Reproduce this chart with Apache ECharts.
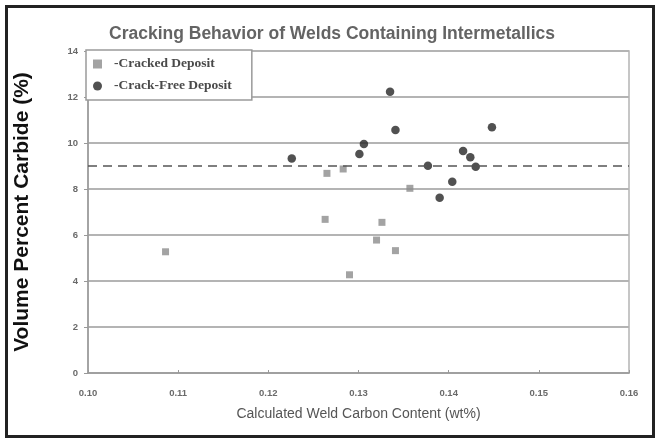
<!DOCTYPE html>
<html>
<head>
<meta charset="utf-8">
<script src="https://cdn.jsdelivr.net/npm/echarts@6/dist/echarts.min.js"></script>
<style>html,body{margin:0;padding:0;background:#fff}#c{width:655px;height:439px}</style>
</head>
<body>
<div id="c"></div>
<script>
// Weld carbon content (wt%) vs. volume percent carbide
const crackedCarbon   = [0.1086, 0.1263, 0.1265, 0.1283, 0.1290, 0.1320, 0.1326, 0.1341, 0.1357];
const crackedCarbide  = [5.27, 6.68, 8.68, 8.87, 4.27, 5.78, 6.55, 5.32, 8.03];
const crackFreeCarbon  = [0.1226, 0.1301, 0.1306, 0.1335, 0.1341, 0.1377, 0.1390, 0.1404, 0.1416, 0.1424, 0.1430, 0.1448];
const crackFreeCarbide = [9.33, 9.52, 9.96, 12.23, 10.57, 9.01, 7.62, 8.32, 9.65, 9.38, 8.97, 10.68];
const thresholdCarbide = 9.0;
const xTicks = ['0.10', '0.11', '0.12', '0.13', '0.14', '0.15', '0.16'];
const yTicks = [0, 2, 4, 6, 8, 10, 12, 14];

const toPairs = (xs, ys) => xs.map((x, i) => [x, ys[i]]);

const chart = echarts.init(document.getElementById('c'), null, {renderer: 'canvas'});
const gridColor = '#b4b4b4';
const sans = 'Liberation Sans, Arial, sans-serif';
const tickStyle = {color: '#6a6a6a', fontSize: 9.5, fontWeight: 'bold', fontFamily: sans};

chart.setOption({
  animation: false,
  backgroundColor: '#fff',
  title: {
    text: 'Cracking Behavior of Welds Containing Intermetallics',
    left: 327, top: 20, textAlign: 'center',
    textStyle: {color: '#646464', fontSize: 17.5, fontWeight: 'bold', fontFamily: sans}
  },
  legend: {
    left: 86, top: 50, orient: 'vertical', itemGap: 8,
    itemWidth: 9, itemHeight: 9,
    backgroundColor: '#fff', borderColor: '#9a9a9a', borderWidth: 1.5,
    padding: [7, 20, 7, 7],
    textStyle: {color: '#4a4a4a', fontSize: 13.5, fontWeight: 'bold', fontFamily: 'Liberation Serif, Times New Roman, serif', padding: [0, 0, 0, 7]},
    formatter: n => '-' + n,
    data: [{name: 'Cracked Deposit', icon: 'rect'}, {name: 'Crack-Free Deposit', icon: 'circle'}]
  },
  grid: {left: 88, right: 26, top: 51, bottom: 66, show: true, borderColor: gridColor, borderWidth: 1.5},
  xAxis: {
    type: 'value', min: 0.10, max: 0.16, interval: 0.01,
    name: 'Calculated Weld Carbon Content (wt%)', nameLocation: 'middle', nameGap: 34,
    nameTextStyle: {color: '#555', fontSize: 14, fontFamily: sans},
    axisLine: {lineStyle: {color: '#999', width: 1.5}},
    axisTick: {show: true, inside: true, length: 3, lineStyle: {color: '#999'}},
    axisLabel: Object.assign({margin: 15, formatter: (v) => xTicks[Math.round((v - 0.10) / 0.01)]}, tickStyle),
    splitLine: {show: false}
  },
  yAxis: {
    type: 'value', min: 0, max: 14, interval: 2,
    name: 'Volume Percent Carbide (%)', nameLocation: 'middle', nameGap: 55,
    nameTextStyle: {color: '#111', fontSize: 21, fontWeight: 'bold', fontFamily: sans},
    axisLine: {lineStyle: {color: '#999', width: 1.5}},
    axisTick: {show: true, length: 4, lineStyle: {color: '#999'}},
    axisLabel: Object.assign({margin: 10, formatter: v => yTicks.includes(v) ? String(v) : ''}, tickStyle),
    splitLine: {lineStyle: {color: gridColor, width: 2}}
  },
  series: [
    {
      name: 'Cracked Deposit', type: 'scatter', symbol: 'rect', symbolSize: 7,
      itemStyle: {color: '#8c8c8c'}, z: 3,
      data: toPairs(crackedCarbon, crackedCarbide)
    },
    {
      name: 'Crack-Free Deposit', type: 'scatter', symbol: 'circle', symbolSize: 8.5,
      itemStyle: {color: '#262626'}, z: 4,
      data: toPairs(crackFreeCarbon, crackFreeCarbide),
      markLine: {
        silent: true, symbol: 'none', label: {show: false},
        lineStyle: {color: '#555', type: [9, 6], width: 1.5},
        data: [{yAxis: thresholdCarbide}]
      }
    }
  ],
  graphic: [{
    type: 'rect', left: 4, top: 4, silent: true,
    shape: {width: 647, height: 430},
    style: {fill: 'none', stroke: '#222', lineWidth: 3}
  }]
});
</script>
</body>
</html>
